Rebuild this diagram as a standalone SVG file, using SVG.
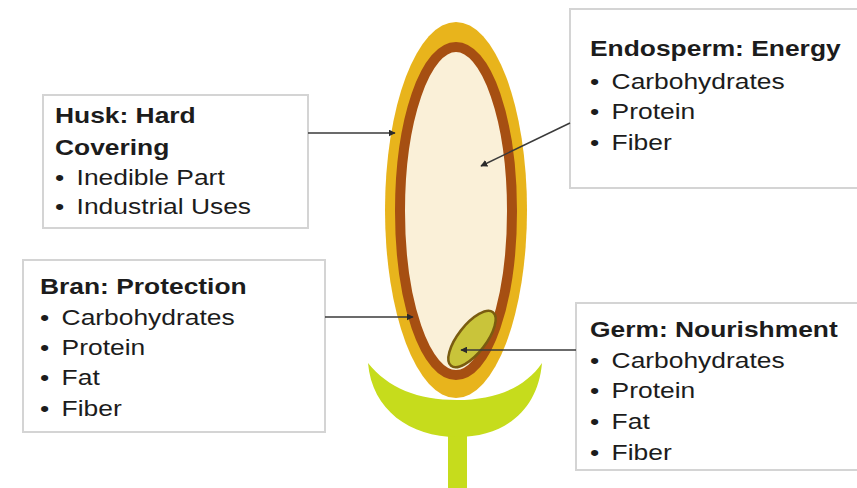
<svg xmlns="http://www.w3.org/2000/svg" width="857" height="488" viewBox="0 0 857 488">
  <defs>
    <marker id="arrow" viewBox="0 0 10 10" refX="9" refY="5" markerWidth="7" markerHeight="7" markerUnits="userSpaceOnUse" orient="auto">
      <path d="M0,0 L10,5 L0,10 Z" fill="#2a2a2a"/>
    </marker>
    <style>
      .box { fill: #ffffff; stroke: #d4d4d4; stroke-width: 2; }
      .label { font-family: "Liberation Sans", Arial, sans-serif; font-size: 22px; fill: #1c1c1c; }
      .title { font-weight: bold; }
      .conn { stroke: #3a3a3a; stroke-width: 1.5; fill: none; marker-end: url(#arrow); }
    </style>
  </defs>

  <rect width="857" height="488" fill="#ffffff"/>

  <!-- Seedling: stem and leaf cup -->
  <g id="seedling">
    <rect x="448" y="420" width="19" height="68" fill="#c6dc1c"/>
    <path d="M368,363 C372,410 410,437 457,437 C505,437 538,410 542,363 C525,388 495,400 457,400 C418,400 388,388 368,363 Z" fill="#c6dc1c"/>
  </g>

  <!-- Grain layers -->
  <g id="husk">
    <ellipse cx="456" cy="210" rx="71" ry="188" fill="#e8b41c"/>
  </g>
  <g id="bran">
    <ellipse cx="456" cy="211" rx="56" ry="164" fill="#faf0d8" stroke="#a64f12" stroke-width="10"/>
  </g>
  <g id="germ">
    <ellipse cx="472" cy="339" rx="34" ry="14" transform="rotate(-52 472 339)" fill="#c9c43a" stroke="#7a5c10" stroke-width="2.5"/>
  </g>

  <!-- Label boxes -->
  <g id="husk-label">
    <rect class="box" x="43" y="95" width="265" height="133"/>
    <g transform="translate(55,0) scale(1.2,1)">
      <text class="label title" x="0" y="123">Husk: Hard</text>
      <text class="label title" x="0" y="155">Covering</text>
      <text class="label" x="0" y="185">•</text>
      <text class="label" x="18" y="185">Inedible Part</text>
      <text class="label" x="0" y="214">•</text>
      <text class="label" x="18" y="214">Industrial Uses</text>
    </g>
  </g>

  <g id="bran-label">
    <rect class="box" x="23" y="260" width="302" height="172"/>
    <g transform="translate(40,0) scale(1.2,1)">
      <text class="label title" x="0" y="294">Bran: Protection</text>
      <text class="label" x="0" y="325">•</text>
      <text class="label" x="18" y="325">Carbohydrates</text>
      <text class="label" x="0" y="355">•</text>
      <text class="label" x="18" y="355">Protein</text>
      <text class="label" x="0" y="385">•</text>
      <text class="label" x="18" y="385">Fat</text>
      <text class="label" x="0" y="416">•</text>
      <text class="label" x="18" y="416">Fiber</text>
    </g>
  </g>

  <g id="endosperm-label">
    <rect class="box" x="570" y="9" width="300" height="179"/>
    <g transform="translate(590,0) scale(1.2,1)">
      <text class="label title" x="0" y="56">Endosperm: Energy</text>
      <text class="label" x="0" y="89">•</text>
      <text class="label" x="18" y="89">Carbohydrates</text>
      <text class="label" x="0" y="119">•</text>
      <text class="label" x="18" y="119">Protein</text>
      <text class="label" x="0" y="150">•</text>
      <text class="label" x="18" y="150">Fiber</text>
    </g>
  </g>

  <g id="germ-label">
    <rect class="box" x="576" y="303" width="300" height="167"/>
    <g transform="translate(590,0) scale(1.2,1)">
      <text class="label title" x="0" y="337">Germ: Nourishment</text>
      <text class="label" x="0" y="368">•</text>
      <text class="label" x="18" y="368">Carbohydrates</text>
      <text class="label" x="0" y="398">•</text>
      <text class="label" x="18" y="398">Protein</text>
      <text class="label" x="0" y="429">•</text>
      <text class="label" x="18" y="429">Fat</text>
      <text class="label" x="0" y="460">•</text>
      <text class="label" x="18" y="460">Fiber</text>
    </g>
  </g>

  <!-- Connectors from labels to grain parts -->
  <g id="connectors">
    <line class="conn" x1="308" y1="133" x2="395" y2="133"/>
    <line class="conn" x1="325" y1="317" x2="413" y2="317"/>
    <line class="conn" x1="570" y1="123" x2="481" y2="166"/>
    <line class="conn" x1="576" y1="350" x2="461" y2="350"/>
  </g>
</svg>
